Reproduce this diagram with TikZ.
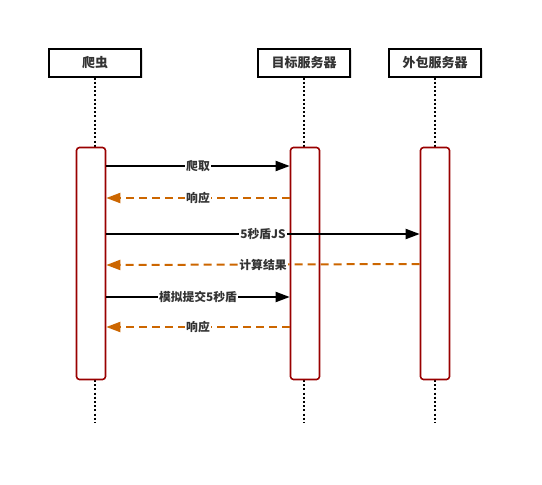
\documentclass[tikz,border=0pt]{standalone}
\usepackage{fontspec}
\usepackage{xcolor}
\usepackage{tikz}
\usetikzlibrary{arrows.meta,shadows}
\newfontfamily\cjk{Noto Sans CJK SC}
\definecolor{actred}{HTML}{990000}
\definecolor{retorange}{HTML}{CC6600}
\definecolor{txtgray}{HTML}{333333}
\tikzset{
  head/.style={draw,line width=2pt,fill=white,minimum width=92pt,minimum height=28pt,inner sep=0pt,
    font=\cjk\bfseries\fontsize{13}{15}\selectfont,text=txtgray,
    drop shadow={shadow xshift=1.5pt,shadow yshift=-1.5pt,opacity=0.25}},
  act/.style={draw=actred,line width=1.6pt,fill=white,rounded corners=3pt,minimum width=29pt,minimum height=232pt,inner sep=0pt},
  life/.style={line width=2pt,dash pattern=on 2pt off 2.2pt},
  msg/.style={-{Triangle[length=14pt,width=10pt]},line width=2pt},
  ret/.style={-{Triangle[length=14pt,width=10pt]},line width=2pt,color=retorange,dash pattern=on 8pt off 5pt},
  lbl/.style={fill=white,inner sep=1pt,font=\cjk\bfseries\fontsize{11.8}{14}\selectfont,text=txtgray},
}
\begin{document}
\begin{tikzpicture}[x=1pt,y=-1pt]
\useasboundingbox (0,0) rectangle (542,485);
% participants
\node[head] (crawler) at (95,62.5) {爬虫};
\node[head] (target) at (304,62.5) {目标服务器};
\node[head] (outsrc) at (435,62.5) {外包服务器};
% lifelines
\coordinate (crawlerEnd) at (95,423);
\coordinate (targetEnd) at (304,423);
\coordinate (outsrcEnd) at (435,423);
\foreach \p in {crawler,target,outsrc}
  \draw[life] (\p.south) -- (\p End);
% activations
\node[act] (crawlerAct) at (91,263.5) {};
\node[act] (targetAct) at (305,263.5) {};
\node[act] (outsrcAct) at (435,263.5) {};
% messages
\foreach \ya/\yb/\from/\to/\sty/\txt in {
  166/166/crawlerAct.east/targetAct.west/msg/爬取,
  198/198/targetAct.west/crawlerAct.east/ret/响应,
  234/234/crawlerAct.east/outsrcAct.west/msg/5秒盾JS,
  264/265/outsrcAct.west/crawlerAct.east/ret/计算结果,
  297/297/crawlerAct.east/targetAct.west/msg/模拟提交5秒盾,
  327/327/targetAct.west/crawlerAct.east/ret/响应}
  \draw[\sty] (\from |- 0,\ya) -- node[lbl] {\txt} (\to |- 0,\yb);
\end{tikzpicture}
\end{document}
